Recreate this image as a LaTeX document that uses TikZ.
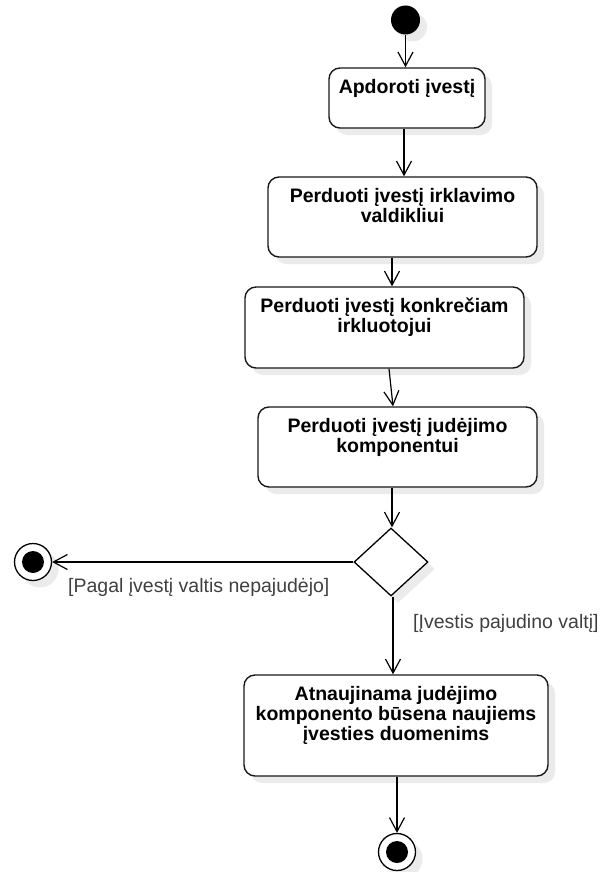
\documentclass[tikz,border=0pt]{standalone}
\usepackage{fontspec}
\setmainfont{Liberation Sans}
\usetikzlibrary{arrows.meta,shapes.geometric,shadows}

\begin{document}
\begin{tikzpicture}[x=1pt,y=-1pt,
  softshadow/.style={drop shadow={shadow xshift=7pt,shadow yshift=-7pt,fill=black!8,opacity=1}},
  actbox/.style={draw=black!90, line width=1.4pt, rounded corners=11pt, fill=white, inner sep=0pt, softshadow},
  acttext/.style={font=\fontsize{19.5}{19.5}\selectfont\bfseries, anchor=base, inner sep=0pt},
  guard/.style={font=\fontsize{19.5}{19.5}\selectfont, text=black!75, anchor=base west, inner sep=0pt},
  flow/.style={line width=1.2pt, -{Straight Barb[length=14pt,width=15pt]}},
  startnode/.style={circle, fill=black, minimum size=29pt, inner sep=0pt, softshadow},
  endnode/.style={circle, draw=black, line width=1.3pt, fill=white, minimum size=37pt, inner sep=0pt, softshadow},
  decision/.style={diamond, draw=black, line width=1.3pt, fill=white, minimum width=74pt, minimum height=68pt, inner sep=0pt, softshadow}
]
\useasboundingbox (0,0) rectangle (601,872);

% start
\node[startnode] (init) at (405.5,20) {};

% activities
\node[actbox, minimum width=156pt, minimum height=60pt] (b1) at (407,98) {};
\node[acttext] (t1) at ([yshift=-26.5pt]b1.north) {\begin{tabular}[t]{@{}c@{}}Apdoroti įvestį\end{tabular}};

\node[actbox, minimum width=269pt, minimum height=80pt] (b2) at (402.5,217) {};
\node[acttext] (t2) at ([yshift=-26.5pt]b2.north) {\begin{tabular}[t]{@{}c@{}}Perduoti įvestį irklavimo\\ valdikliui\end{tabular}};

\node[actbox, minimum width=279pt, minimum height=81pt] (b3) at (384.5,327.5) {};
\node[acttext] (t3) at ([yshift=-26.5pt]b3.north) {\begin{tabular}[t]{@{}c@{}}Perduoti įvestį konkrečiam\\ irkluotojui\end{tabular}};

\node[actbox, minimum width=279pt, minimum height=80pt] (b4) at (397.5,447) {};
\node[acttext] (t4) at ([yshift=-26.5pt]b4.north) {\begin{tabular}[t]{@{}c@{}}Perduoti įvestį judėjimo\\ komponentui\end{tabular}};

% decision
\node[decision] (dec) at (391,562) {};

\node[actbox, minimum width=304pt, minimum height=101pt] (b5) at (396,725.5) {};
\node[acttext] (t5) at ([yshift=-26.5pt]b5.north) {\begin{tabular}[t]{@{}c@{}}Atnaujinama judėjimo\\ komponento būsena naujiems\\ įvesties duomenims\end{tabular}};

% ends
\node[endnode] (f1) at (33,562) {};
\fill (f1) circle (11pt);
\node[endnode] (f2) at (397,852) {};
\fill (f2) circle (11pt);

% flows
\draw[flow] (init) -- (init |- b1.north);
\draw[flow] ([xshift=-3pt]b1.south) -- ([xshift=1.5pt]b2.north);
\draw[flow] ([xshift=-10.5pt]b2.south) -- ([xshift=7.5pt]b3.north);
\draw[flow] ([xshift=4.5pt]b3.south) -- ([xshift=-4.5pt]b4.north);
\draw[flow] ([xshift=-5.5pt]b4.south) -- ([xshift=1pt]dec.north);
\draw[flow] (dec.west) -- (dec.west -| f1.east);
\draw[flow] ([xshift=2pt]dec.south) -- ([xshift=-3pt]b5.north);
\draw[flow] ([xshift=1pt]b5.south) -- (f2.north);

% guards
\node[guard] (g1) at (68,592) {[Pagal įvestį valtis nepajudėjo]};
\node[guard] (g2) at (413,628) {[Įvestis pajudino valtį]};
\end{tikzpicture}
\end{document}
